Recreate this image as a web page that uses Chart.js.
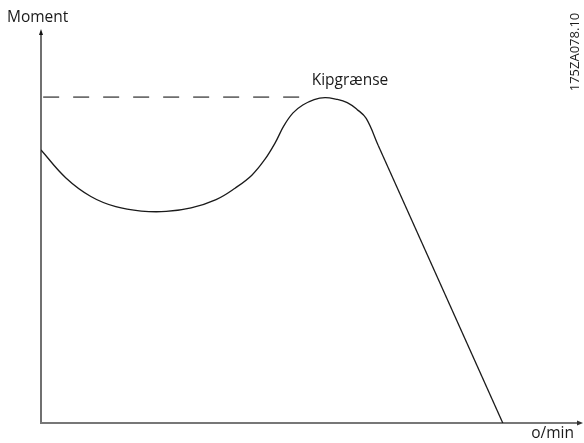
<!DOCTYPE html>
<html>
<head>
<meta charset="utf-8">
<script src="https://cdn.jsdelivr.net/npm/chart.js@4"></script>
<style>
  html, body { margin: 0; padding: 0; background: #fff; }
  #wrap { width: 584px; height: 443px; }
</style>
</head>
<body>
<div id="wrap"><canvas id="chart"></canvas></div>
<script>
// Moment-kurve (speed 0-100, torque 0-100)
const speed  = [0, 4.6, 9.2, 13.8, 18.5, 23.1, 27.7, 32.3, 35.8, 38.9, 41.3, 43.2, 44.8, 46.5, 48.3, 50.4, 52.4, 54.4, 56.5, 58.3, 60.0, 62.2];
const torque = [69.3, 62.2, 57.5, 54.9, 53.8, 53.7, 54.6, 56.7, 59.6, 62.9, 66.9, 71.1, 75.4, 78.7, 80.7, 82.1, 82.6, 82.2, 81.3, 79.6, 77.3, 70.5];

// straight falling part after the breakdown point
const fallSpeed  = [62.2, 85.2];
const fallTorque = [70.5, 0];

// Kipgrænse (dashed limit)
const limitSpeed  = [0.4, 48.6];
const limitTorque = [82.7, 82.7];

const yLabel = 'Moment';
const xLabel = 'o/min';
const limitLabel = 'Kipgrænse';
const figId = '175ZA078.10';

const FONT = '"Open Sans", sans-serif';
const toPts = (xs, ys) => xs.map((v, i) => ({ x: v, y: ys[i] }));

// axes with arrowheads + labels
const axesPlugin = {
  id: 'axes',
  beforeDatasetsDraw(chart) {
    const { ctx, chartArea: a, scales } = chart;
    const x0 = scales.x.getPixelForValue(0);
    const y0 = scales.y.getPixelForValue(0);
    ctx.save();
    // y axis
    ctx.strokeStyle = '#111';
    ctx.lineWidth = 1.2;
    ctx.beginPath();
    ctx.moveTo(x0, y0);
    ctx.lineTo(x0, a.top + 3);
    ctx.stroke();
    ctx.fillStyle = '#111';
    ctx.beginPath();
    ctx.moveTo(x0, a.top);
    ctx.lineTo(x0 - 2, a.top + 6);
    ctx.lineTo(x0 + 2, a.top + 6);
    ctx.closePath();
    ctx.fill();
    // x axis
    ctx.strokeStyle = '#777';
    ctx.lineWidth = 2;
    ctx.beginPath();
    ctx.moveTo(x0 - 1, y0);
    ctx.lineTo(a.right - 4, y0);
    ctx.stroke();
    ctx.fillStyle = '#333';
    ctx.beginPath();
    ctx.moveTo(a.right, y0);
    ctx.lineTo(a.right - 6, y0 - 2.5);
    ctx.lineTo(a.right - 6, y0 + 2.5);
    ctx.closePath();
    ctx.fill();
    ctx.restore();
  },
  afterDraw(chart) {
    const { ctx } = chart;
    ctx.save();
    ctx.fillStyle = '#1a1a1a';
    ctx.font = '15.5px ' + FONT;
    ctx.textBaseline = 'alphabetic';
    ctx.textAlign = 'left';
    ctx.fillText(yLabel, 7, 22);
    ctx.textAlign = 'center';
    ctx.fillText(limitLabel, 350, 85);
    ctx.textAlign = 'right';
    ctx.fillText(xLabel, 574, 438);
    // figure id, rotated
    ctx.translate(579, 52);
    ctx.rotate(-Math.PI / 2);
    ctx.textAlign = 'center';
    ctx.font = '13px ' + FONT;
    ctx.fillText(figId, 0, 0);
    ctx.restore();
  }
};

const data = {
  datasets: [
    {
      label: 'Moment',
      data: toPts(speed, torque),
      borderColor: '#1a1a1a',
      borderWidth: 1.3,
      pointRadius: 0,
      fill: false,
      tension: 0.4
    },
    {
      label: 'Moment (fall)',
      data: toPts(fallSpeed, fallTorque),
      borderColor: '#1a1a1a',
      borderWidth: 1.3,
      pointRadius: 0,
      fill: false
    },
    {
      label: limitLabel,
      data: toPts(limitSpeed, limitTorque),
      borderColor: '#6e6e6e',
      borderWidth: 1.6,
      borderDash: [16, 14],
      pointRadius: 0,
      fill: false
    }
  ]
};

const config = {
  type: 'line',
  data: data,
  options: {
    responsive: true,
    maintainAspectRatio: false,
    animation: false,
    layout: { padding: { left: 41, right: 1, top: 29, bottom: 20 } },
    plugins: { legend: { display: false }, tooltip: { enabled: false } },
    scales: {
      x: { type: 'linear', min: 0, max: 100, display: false },
      y: { type: 'linear', min: 0, max: 100, display: false }
    }
  },
  plugins: [axesPlugin]
};

const chart = new Chart(document.getElementById('chart'), config);
</script>
</body>
</html>
